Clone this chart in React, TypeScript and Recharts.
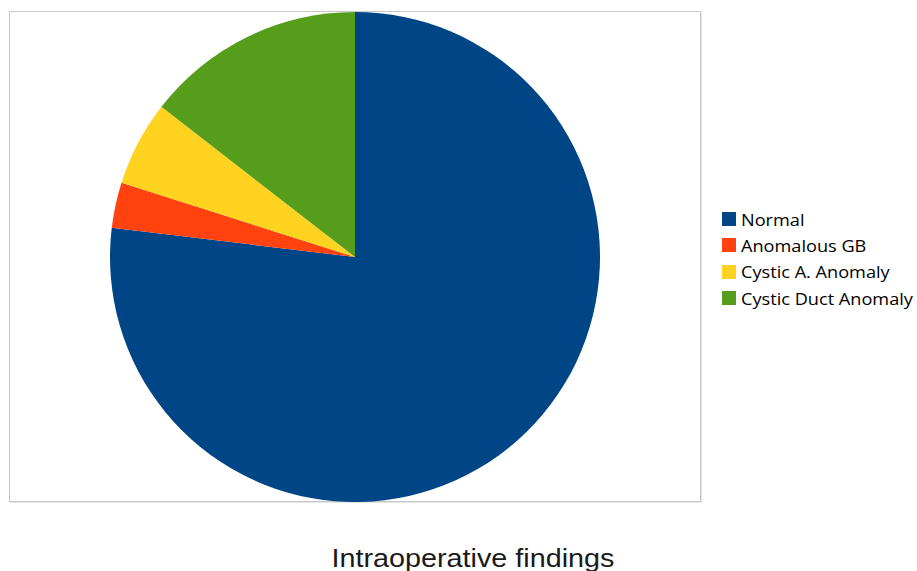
import React from 'react';
import { PieChart, Pie, Cell, Legend } from 'recharts';

const categories: string[] = ['Normal', 'Anomalous GB', 'Cystic A. Anomaly', 'Cystic Duct Anomaly'];
const values: number[] = [76.9, 3.0, 5.6, 14.5];
const colors: string[] = ['#004586', '#ff420e', '#ffd320', '#579d1c'];
const title = 'Intraoperative findings';

const data = categories.map((name, i) => ({ name, value: values[i] }));

function LegendContent(props: any) {
  const payload = [...(props.payload || [])].sort(
    (a: any, b: any) => categories.indexOf(a.value) - categories.indexOf(b.value)
  );
  return (
    <div>
      {payload.map((entry: any, i: number) => (
        <div key={i} style={{ display: 'flex', alignItems: 'center', height: 26.3 }}>
          <span style={{ display: 'inline-block', flex: 'none', width: 14, height: 14, background: colors[categories.indexOf(entry.value)] ?? entry.color, marginRight: 5 }} />
          <span style={{ display: 'inline-block', transform: 'scaleX(1.1)', transformOrigin: 'left center', fontFamily: '"Open Sans", sans-serif', fontSize: 16.5, color: '#000', whiteSpace: 'nowrap' }}>{entry.value}</span>
        </div>
      ))}
    </div>
  );
}

export default function App() {
  return (
    <div style={{ position: 'absolute', left: 0, top: 0, width: 917, height: 571, background: '#fff', overflow: 'hidden' }}>
      <div style={{ position: 'absolute', left: 9, top: 11, width: 690, height: 489, border: '1px solid #c8c8c8', boxShadow: '1px 1px 0 #e4e4e4' }} />
      <div style={{ position: 'absolute', left: 0, top: 0 }}>
        <PieChart width={917} height={571} margin={{ top: 0, right: 0, bottom: 0, left: 0 }}>
          <Pie
            data={data}
            dataKey="value"
            nameKey="name"
            cx={355}
            cy={257}
            outerRadius={245}
            startAngle={90}
            endAngle={-270}
            stroke="none"
            isAnimationActive={false}
          >
            {data.map((d, i) => (
              <Cell key={d.name} fill={colors[i]} stroke="none" />
            ))}
          </Pie>
          <Legend
            layout="vertical"
            align="right"
            verticalAlign="top"
            content={<LegendContent />}
            wrapperStyle={{ position: 'absolute', left: 722, top: 206, width: 195 }}
          />
        </PieChart>
      </div>
      <div
        style={{
          position: 'absolute',
          left: 0,
          width: 946,
          top: 544,
          textAlign: 'center',
          fontFamily: '"Liberation Sans", Arial, sans-serif',
          fontSize: 25,
          color: '#1a1a1a',
          whiteSpace: 'nowrap',
        }}
      >
        <span style={{ display: 'inline-block', transform: 'scaleX(1.15)' }}>{title}</span>
      </div>
    </div>
  );
}
